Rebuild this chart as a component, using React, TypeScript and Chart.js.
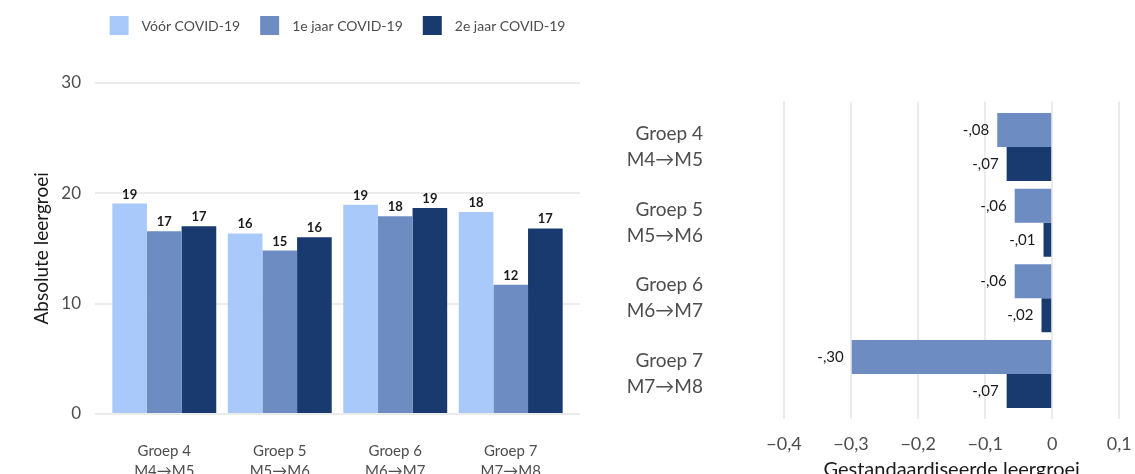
import React, { useEffect, useRef } from 'react';
import { Chart, registerables } from 'chart.js';

Chart.register(...registerables);
Chart.defaults.font.family = 'Lato';

// ---------- data ----------
const groupLabels: string[][] = [
  ['Groep 4', 'M4→M5'],
  ['Groep 5', 'M5→M6'],
  ['Groep 6', 'M6→M7'],
  ['Groep 7', 'M7→M8'],
];
const seriesNames = ['Vóór COVID-19', '1e jaar COVID-19', '2e jaar COVID-19'];
const seriesColors = ['#A9C9FA', '#6C8CC2', '#183A6F'];

// absolute learning growth
const absVoor = [19.05, 16.35, 18.95, 18.3];
const abs1e = [16.55, 14.8, 17.9, 11.7];
const abs2e = [17.0, 16.0, 18.65, 16.8];
const absTicks = [0, 10, 20, 30];

// standardised learning growth
const std1e = [-0.082, -0.056, -0.056, -0.299];
const std2e = [-0.068, -0.013, -0.016, -0.068];
const stdTicks = [-0.4, -0.3, -0.2, -0.1, 0, 0.1];

const GRID = '#EBEBEB';
const TICK = '#4D4D4D';
const TITLE = '#1A1A1A';

const groupIdx = groupLabels.map((_, i) => i);

function fmtStdTick(v: number) {
  if (Math.abs(v) < 1e-9) return '0';
  return (v < 0 ? '−' : '') + Math.abs(v).toFixed(1).replace('.', ',');
}
function fmtStdLabel(v: number) {
  const n = Math.round(Math.abs(v) * 100);
  return (v < 0 ? '-' : '') + ',' + String(n).padStart(2, '0');
}

const leftLegendPlugin = {
  id: 'leftLegend',
  afterDraw(chart: any) {
    const { ctx, chartArea } = chart;
    const box = 19, gapText = 13, gapItem = 20;
    ctx.save();
    ctx.font = '14px Lato';
    const items = chart.data.datasets.map((d: any) => ({
      label: d.label as string,
      color: d.backgroundColor as string,
      w: ctx.measureText(d.label).width,
    }));
    const total = items.reduce((s: number, it: any) => s + box + gapText + it.w, 0) + gapItem * (items.length - 1);
    let x = (chartArea.left + chartArea.right) / 2 - total / 2;
    const top = 16;
    items.forEach((it: any) => {
      ctx.fillStyle = it.color;
      ctx.fillRect(x, top, box, box);
      ctx.fillStyle = TICK;
      ctx.textBaseline = 'middle';
      ctx.textAlign = 'left';
      ctx.fillText(it.label, x + box + gapText, top + box / 2 + 1);
      x += box + gapText + it.w + gapItem;
    });
    ctx.restore();
  },
};

const leftValueLabels = {
  id: 'leftValueLabels',
  afterDatasetsDraw(chart: any) {
    const { ctx } = chart;
    ctx.save();
    ctx.font = 'bold 13px Lato';
    ctx.fillStyle = TITLE;
    ctx.textAlign = 'center';
    ctx.textBaseline = 'alphabetic';
    chart.data.datasets.forEach((ds: any, di: number) => {
      const meta = chart.getDatasetMeta(di);
      meta.data.forEach((bar: any, i: number) => {
        const v = ds.data[i].y;
        ctx.fillText(String(Math.round(v)), bar.x, bar.y - 5);
      });
    });
    ctx.restore();
  },
};

const rightValueLabels = {
  id: 'rightValueLabels',
  afterDatasetsDraw(chart: any) {
    const { ctx } = chart;
    ctx.save();
    ctx.font = '15px Lato';
    ctx.fillStyle = TITLE;
    ctx.textAlign = 'right';
    ctx.textBaseline = 'middle';
    chart.data.datasets.forEach((ds: any, di: number) => {
      const meta = chart.getDatasetMeta(di);
      meta.data.forEach((bar: any, i: number) => {
        const v = ds.data[i].x;
        ctx.fillText(fmtStdLabel(v), bar.x - 8, bar.y);
      });
    });
    ctx.restore();
  },
};

function LeftChart() {
  const ref = useRef<HTMLCanvasElement>(null);
  useEffect(() => {
    const padLeft = 30.6;
    const chart = new Chart(ref.current as HTMLCanvasElement, {
      type: 'bar',
      data: {
        datasets: [absVoor, abs1e, abs2e].map((arr, s) => ({
          label: seriesNames[s],
          backgroundColor: seriesColors[s],
          data: arr.map((y, i) => ({ x: groupIdx[i], y })),
          categoryPercentage: 0.9,
          barPercentage: 1.0,
        })),
      },
      options: {
        responsive: false,
        animation: false,
        layout: { padding: { left: padLeft, top: 82.7, right: 20, bottom: 0 } },
        plugins: { legend: { display: false }, tooltip: { enabled: false } },
        scales: {
          x: {
            type: 'linear',
            offset: false,
            min: -0.6,
            max: 3.6,
            afterBuildTicks: (axis: any) => {
              axis.ticks = groupIdx.map((v) => ({ value: v }));
            },
            afterFit: (s: any) => {
              s.height = 60;
              s.paddingLeft = 0;
              s.paddingRight = 0;
            },
            grid: { display: false, drawTicks: false },
            border: { display: false },
            ticks: {
              autoSkip: false,
              maxRotation: 0,
              minRotation: 0,
              padding: 27,
              color: TICK,
              font: { size: 15, lineHeight: 1.33 },
              callback: (v: any) => groupLabels[v] as any,
            },
          },
          y: {
            min: 0,
            max: 30,
            afterBuildTicks: (axis: any) => {
              axis.ticks = absTicks.map((v) => ({ value: v }));
            },
            afterFit: (s: any) => {
              s.width = 95 - padLeft;
              s.paddingTop = 0;
              s.paddingBottom = 0;
            },
            grid: { color: GRID, lineWidth: 2, drawTicks: false },
            border: { display: false },
            ticks: { padding: 14, color: TICK, font: { size: 17 } },
            title: {
              display: true,
              text: 'Absolute leergroei',
              color: TITLE,
              font: { size: 19 },
              padding: { top: 0, bottom: 0 },
            },
          },
        },
      },
      plugins: [leftLegendPlugin, leftValueLabels],
    } as any);
    return () => chart.destroy();
  }, []);
  return <canvas ref={ref} width={600} height={474} style={{ display: 'block' }} />;
}

function RightChart() {
  const ref = useRef<HTMLCanvasElement>(null);
  useEffect(() => {
    const chart = new Chart(ref.current as HTMLCanvasElement, {
      type: 'bar',
      data: {
        datasets: [std1e, std2e].map((arr, s) => ({
          label: seriesNames[s + 1],
          backgroundColor: seriesColors[s + 1],
          data: arr.map((x, i) => ({ y: groupIdx[i], x })),
          categoryPercentage: 0.9,
          barPercentage: 1.0,
        })),
      },
      options: {
        indexAxis: 'y',
        responsive: false,
        animation: false,
        layout: { padding: { left: 0, top: 101.7, right: 15.7, bottom: 0 } },
        plugins: { legend: { display: false }, tooltip: { enabled: false } },
        scales: {
          y: {
            type: 'linear',
            offset: false,
            min: -0.6,
            max: 3.6,
            reverse: true,
            afterBuildTicks: (axis: any) => {
              axis.ticks = groupIdx.map((v) => ({ value: v }));
            },
            afterFit: (s: any) => {
              s.width = 184;
              s.paddingTop = 0;
              s.paddingBottom = 0;
            },
            grid: { display: false, drawTicks: false },
            border: { display: false },
            ticks: {
              autoSkip: false,
              padding: 81,
              color: TICK,
              font: { size: 19, lineHeight: 1.37 },
              callback: (v: any) => groupLabels[v] as any,
            },
          },
          x: {
            type: 'linear',
            min: -0.4,
            max: 0.1,
            afterBuildTicks: (axis: any) => {
              axis.ticks = stdTicks.map((v) => ({ value: v }));
            },
            afterFit: (s: any) => {
              s.height = 54.7;
              s.paddingLeft = 0;
              s.paddingRight = 0;
            },
            grid: { color: GRID, lineWidth: 2, drawTicks: false },
            border: { display: false },
            ticks: {
              padding: 14,
              color: TICK,
              font: { size: 18 },
              maxRotation: 0,
              callback: (v: any) => fmtStdTick(Number(v)),
            },
            title: {
              display: true,
              text: 'Gestandaardiseerde leergroei',
              color: TITLE,
              font: { size: 20 },
              padding: { top: 0, bottom: -8 },
            },
          },
        },
      },
      plugins: [rightValueLabels],
    } as any);
    return () => chart.destroy();
  }, []);
  return <canvas ref={ref} width={535} height={474} style={{ display: 'block' }} />;
}

export default function App() {
  useEffect(() => {
    document.body.style.margin = '0';
  }, []);
  return (
    <div style={{ position: 'relative', width: 1135, height: 474, background: '#fff', overflow: 'hidden' }}>
      <div style={{ position: 'absolute', left: 0, top: 0 }}>
        <LeftChart />
      </div>
      <div style={{ position: 'absolute', left: 600, top: 0 }}>
        <RightChart />
      </div>
    </div>
  );
}
